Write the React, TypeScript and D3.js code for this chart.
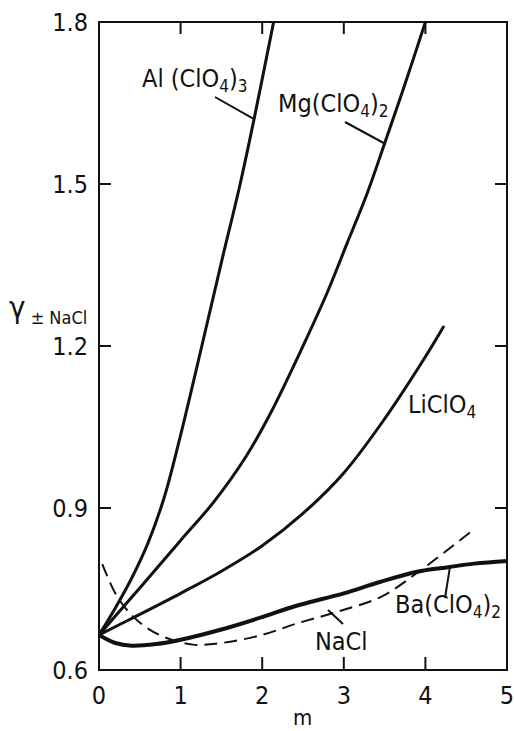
import * as d3 from 'd3';

// mean activity coefficient vs molality
const AL_M = [0, 0.2, 0.4, 0.6, 0.8, 1.0, 1.26, 1.5, 1.73, 1.9, 2.14];
const AL_G = [0.665, 0.715, 0.77, 0.835, 0.92, 1.035, 1.2, 1.355, 1.5, 1.62, 1.8];

const MG_M = [0, 0.5, 1.0, 1.4, 1.8, 2.1, 2.5, 2.8, 3.04, 3.28, 3.5, 3.75, 4.0];
const MG_G = [0.665, 0.752, 0.84, 0.91, 0.995, 1.075, 1.2, 1.3, 1.39, 1.48, 1.575, 1.685, 1.8];

const LI_M = [0, 0.5, 1.0, 1.5, 2.0, 2.5, 3.0, 3.5, 4.0, 4.22];
const LI_G = [0.665, 0.703, 0.742, 0.783, 0.83, 0.89, 0.965, 1.065, 1.18, 1.235];

const BA_M = [0, 0.2, 0.4, 0.7, 1.0, 1.5, 2.0, 2.4, 3.0, 3.44, 3.9, 4.26, 4.6, 5.0];
const BA_G = [0.665, 0.65, 0.645, 0.648, 0.656, 0.675, 0.698, 0.718, 0.742, 0.763, 0.782, 0.79, 0.797, 0.802];

const NACL_M = [0.04, 0.2, 0.35, 0.55, 0.8, 1.15, 1.5, 2.0, 2.4, 2.9, 3.45, 3.9, 4.59];
const NACL_G = [0.796, 0.742, 0.71, 0.682, 0.661, 0.647, 0.65, 0.665, 0.685, 0.707, 0.735, 0.78, 0.86];

const X_TICKS = [0, 1, 2, 3, 4, 5];
const Y_TICKS = [0.6, 0.9, 1.2, 1.5, 1.8];

const FONT = '"DejaVu Sans Condensed", "Liberation Sans Narrow", "DejaVu Sans", sans-serif';

const zip = (ms: number[], gs: number[]) => ms.map((m, i) => [m, gs[i]] as [number, number]);

export default function App() {
  const W = 514;
  const H = 731;
  const x = d3.scaleLinear().domain([0, 5]).range([99, 507]);
  const y = d3.scaleLinear().domain([0.6, 1.8]).range([670, 22]);

  const line = d3.line<[number, number]>()
    .x(d => x(d[0]))
    .y(d => y(d[1]))
    .curve(d3.curveCatmullRom.alpha(0.5));

  const solid = [
    { key: 'al', d: zip(AL_M, AL_G), w: 3 },
    { key: 'mg', d: zip(MG_M, MG_G), w: 3 },
    { key: 'li', d: zip(LI_M, LI_G), w: 3 },
    { key: 'ba', d: zip(BA_M, BA_G), w: 4 },
  ];

  const sub = (t: string) => (
    <tspan fontSize={17} dy={5}>{t}</tspan>
  );
  const up = (t: string) => <tspan dy={-5}>{t}</tspan>;

  return (
    <svg width={W} height={H} style={{ position: 'absolute', left: 0, top: 0, background: '#fff' }}>
      <defs>
        <clipPath id="plot">
          <rect x={x(0)} y={y(1.8)} width={x(5) - x(0)} height={y(0.6) - y(1.8)} />
        </clipPath>
      </defs>

      {/* frame */}
      <rect x={x(0)} y={y(1.8)} width={x(5) - x(0)} height={y(0.6) - y(1.8)} fill="none" stroke="#111" strokeWidth={2} />

      {/* x ticks */}
      {X_TICKS.map(t => (
        <g key={'x' + t}>
          {t > 0 && t < 5 && (
            <>
              <line x1={x(t)} x2={x(t)} y1={y(0.6)} y2={y(0.6) - 13} stroke="#111" strokeWidth={2} />
              <line x1={x(t)} x2={x(t)} y1={y(1.8)} y2={y(1.8) + 12} stroke="#111" strokeWidth={2} />
            </>
          )}
          <text x={x(t)} y={704} textAnchor="middle" fontSize={25} fontFamily={FONT} fill="#111">{t}</text>
        </g>
      ))}

      {/* y ticks */}
      {Y_TICKS.map(t => (
        <g key={'y' + t}>
          {t > 0.6 && t < 1.8 && (
            <>
              <line x1={x(0)} x2={x(0) + 12} y1={y(t)} y2={y(t)} stroke="#111" strokeWidth={2} />
              <line x1={x(5)} x2={x(5) - 12} y1={y(t)} y2={y(t)} stroke="#111" strokeWidth={2} />
            </>
          )}
          <text x={88} y={y(t)} dy="0.36em" textAnchor="end" fontSize={25} fontFamily={FONT} fill="#111">{t.toFixed(1)}</text>
        </g>
      ))}

      {/* curves */}
      <g clipPath="url(#plot)">
        {solid.map(s => (
          <path key={s.key} d={line(s.d) ?? ''} fill="none" stroke="#111" strokeWidth={s.w} strokeLinecap="round" />
        ))}
        <path d={line(zip(NACL_M, NACL_G)) ?? ''} fill="none" stroke="#111" strokeWidth={2} strokeDasharray="13 7" />
      </g>

      {/* leader lines */}
      <g stroke="#111" strokeWidth={2}>
        <line x1={215} y1={97} x2={x(1.9)} y2={y(1.62)} />
        <line x1={345} y1={122} x2={x(3.5)} y2={y(1.575)} />
        <line x1={328} y1={610} x2={343} y2={624} />
        <line x1={445} y1={598} x2={x(4.3)} y2={y(0.79)} />
      </g>

      {/* labels */}
      <g fontFamily={FONT} fontSize={25} fill="#111">
        <text x={142} y={87}>Al (ClO{sub('4')}{up(')')}{sub('3')}</text>
        <text x={278} y={112}>Mg(ClO{sub('4')}{up(')')}{sub('2')}</text>
        <text x={408} y={413}>LiClO{sub('4')}</text>
        <text x={315} y={650}>NaCl</text>
        <text x={395} y={613}>Ba(ClO{sub('4')}{up(')')}{sub('2')}</text>
        <text x={293} y={725} fontSize={22}>m</text>
      </g>

      {/* y-axis title */}
      <text x={9} y={318} fontFamily={FONT} fill="#111">
        <tspan fontSize={31}>γ</tspan>
        <tspan fontSize={18} dy={6}> ± NaCl</tspan>
      </text>
    </svg>
  );
}
